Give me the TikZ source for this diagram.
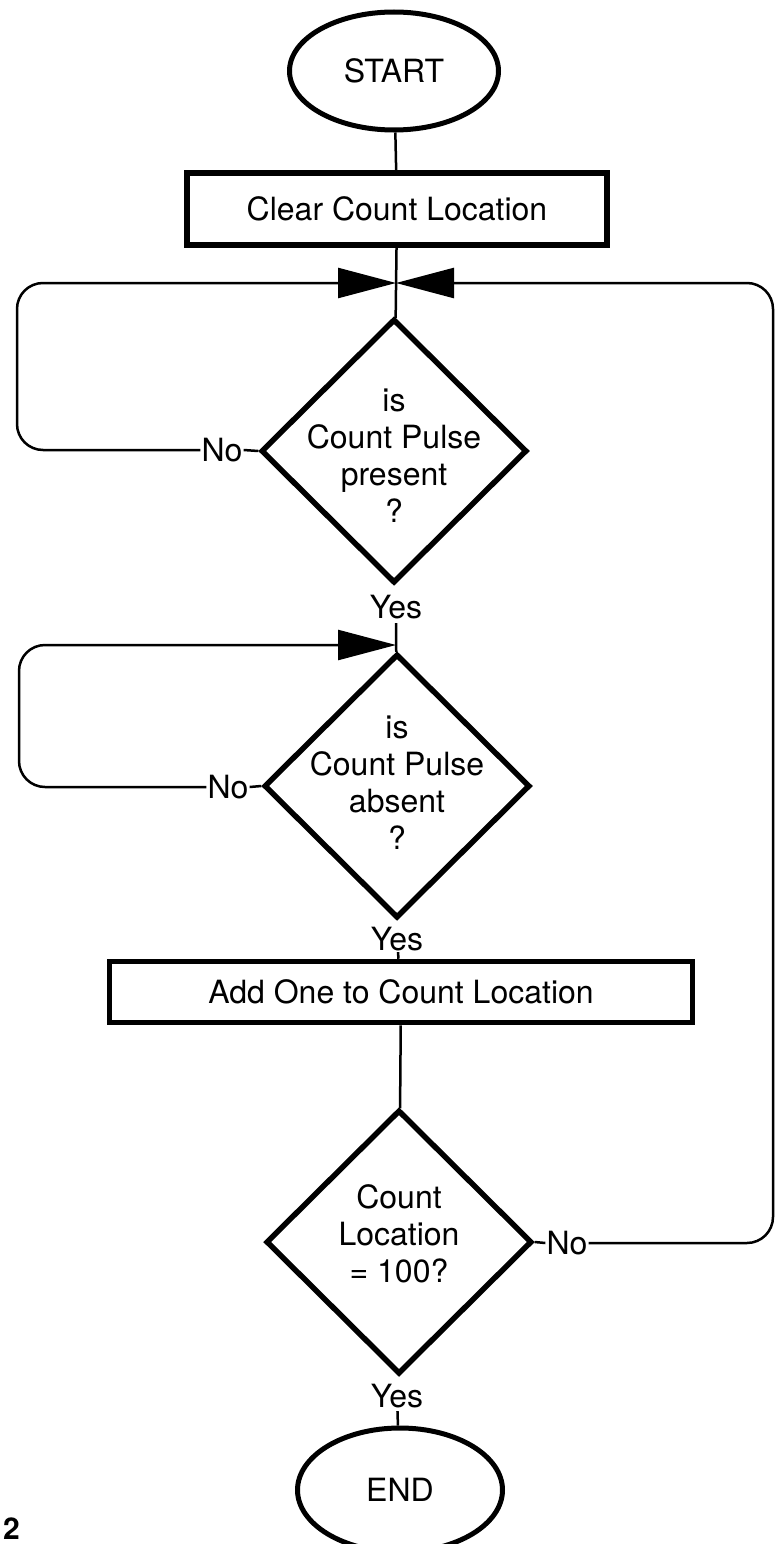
\documentclass[tikz,border=0pt]{standalone}
\usepackage{fontspec}
\setmainfont{TeX Gyre Heros}
\usetikzlibrary{shapes.geometric,arrows.meta}
\begin{document}
\begin{tikzpicture}[x=1pt,y=-1pt,
  every node/.style={font=\fontsize{32}{37}\selectfont},
  term/.style={draw,ellipse,line width=5pt,inner sep=0,minimum width=209pt,minimum height=118pt},
  procbox/.style={draw,rectangle,line width=5.5pt,inner sep=0},
  decision/.style={draw,diamond,line width=5.5pt,inner sep=0,minimum width=266pt,minimum height=264pt},
  dtext/.style={align=center,inner sep=0},
  lbl/.style={inner sep=1pt},
  conn/.style={line width=2.5pt},
  loopline/.style={conn,rounded corners=26pt,-{Triangle[length=58pt,width=30pt]}}
]
\useasboundingbox (0,0) rectangle (776,1544);
\fill[white] (0,0) rectangle (776,1544);

\node[term] (start) at (394,71) {START};
\node[procbox,minimum width=420pt,minimum height=72pt] (clear) at (397,209) {Clear Count Location};
\coordinate (j1) at (396,283);
\node[decision] (d1) at (394,451) {};
\node[dtext] (t1) at (394,456) {is\\Count Pulse\\present\\?};
\node[lbl] (no1) at (222,450) {No};
\node[lbl] (yes1) at (396,607) {Yes};
\coordinate (j2) at (396,645);
\node[decision] (d2) at (397,786) {};
\node[dtext] (t2) at (397,783) {is\\Count Pulse\\absent\\?};
\node[lbl] (no2) at (228,787) {No};
\node[lbl] (yes2) at (397,939) {Yes};
\node[procbox,minimum width=583pt,minimum height=61pt] (add) at (401,992) {Add One to Count Location};
\node[decision] (d3) at (399,1242) {};
\node[dtext] (t3) at (399,1234) {Count\\Location\\= 100?};
\node[lbl] (no3) at (567,1243) {No};
\node[lbl] (yes3) at (397,1396) {Yes};
\node[term,minimum width=205pt,minimum height=124pt] (end) at (400,1490) {END};
\node[font=\bfseries\fontsize{30}{30}\selectfont,anchor=south west,inner sep=0] (fig) at (3,1540) {2};

\draw[conn] (start) -- (clear);
\draw[conn] (clear) -- (d1);
\draw[conn] (d1.west) -- (no1.east);
\draw[loopline] (no1.west) -- (17,450) -- (17,283) -- (j1);
\draw[conn,shorten <=3pt] (yes1) -- (d2);
\draw[conn] (d2.west) -- (no2.east);
\draw[loopline] (no2.west) -- (19,787) -- (19,645) -- (j2);
\draw[conn] (yes2) -- (add);
\draw[conn] (add) -- (d3);
\draw[conn] (d3.east) -- (no3.west);
\draw[loopline] (no3.east) -- (773,1243) -- (773,283) -- (j1);
\draw[conn,shorten <=2pt] (yes3) -- (end);
\end{tikzpicture}
\end{document}
